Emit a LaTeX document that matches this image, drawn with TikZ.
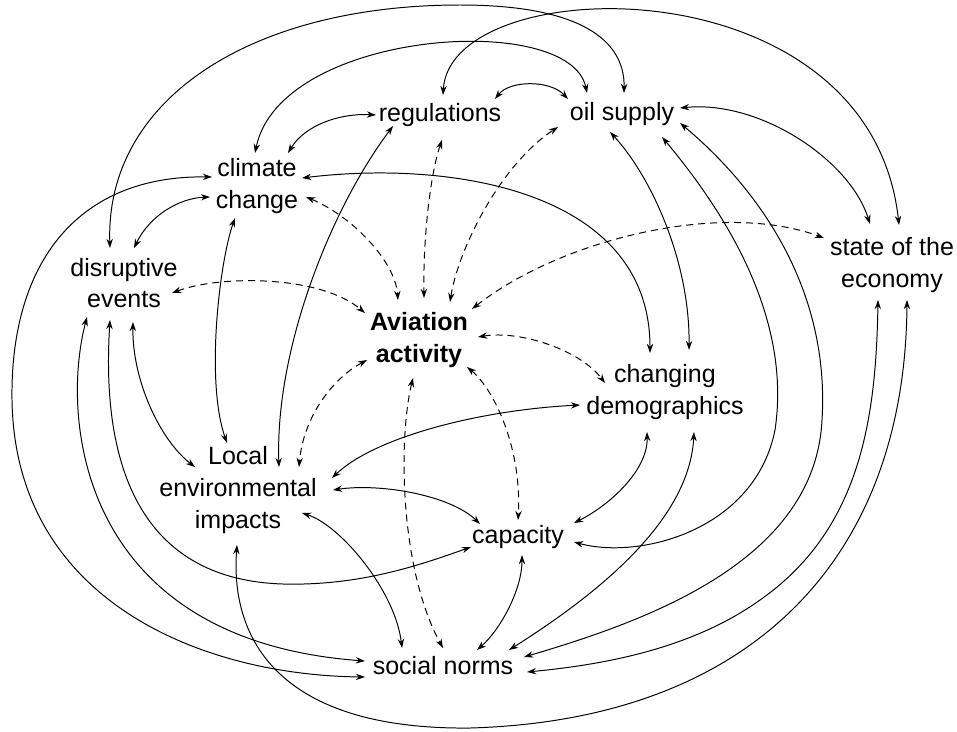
\documentclass[tikz,border=0pt]{standalone}
\usepackage{fontspec}
\setmainfont{Liberation Sans}
\usetikzlibrary{arrows.meta, calc}

\begin{document}
\begin{tikzpicture}[x=0.025cm, y=-0.025cm, >={Stealth[length=6.5pt,width=4.5pt]},
  factor/.style={align=center, inner sep=0pt, font=\fontsize{17.8}{22.5}\selectfont},
  link/.style={<->, line width=0.7pt},
  dlink/.style={link, dash pattern=on 5pt off 3.5pt}]
\useasboundingbox (0,0) rectangle (957,731);

\node[factor] (reg) at (440,115) {regulations};
\node[factor] (oil) at (622,114) {oil supply};
\node[factor] (clim) at (257,186) {climate\\change};
\node[factor] (dis) at (124,283) {disruptive\\events};
\node[factor] (eco) at (892,265) {state of the\\economy};
\node[factor, font=\fontsize{17.8}{22.5}\selectfont\bfseries] (avi) at (419,340) {Aviation\\activity};
\node[factor] (dem) at (665,392) {changing\\demographics};
\node[factor] (loc) at (238,490) {Local\\environmental\\impacts};
\node[factor] (cap) at (518,537) {capacity};
\node[factor] (soc) at (443,666) {social norms};

\draw[dlink] ($(clim)+(49,11)$) .. controls (350,215) and (395,260) .. ($(avi)+(-21,-40)$);
\draw[dlink] ($(reg)+(2,25)$) .. controls (430,175) and (423,240) .. ($(avi)+(5,-42)$);
\draw[dlink] ($(avi)+(31,-38)$) .. controls (458,250) and (500,165) .. ($(oil)+(-64,13)$);
\draw[dlink] ($(dis)+(48,10)$) .. controls (220,275) and (320,275) .. ($(avi)+(-54,-27)$);
\draw[dlink] ($(avi)+(53,-31)$) .. controls (560,240) and (720,200) .. ($(eco)+(-68,-27)$);
\draw[dlink] ($(avi)+(59,-3)$) .. controls (520,330) and (580,350) .. ($(dem)+(-60,-9)$);
\draw[dlink] ($(avi)+(-52,20)$) .. controls (330,380) and (303,420) .. ($(loc)+(61,-23)$);
\draw[dlink] ($(avi)+(48,27)$) .. controls (495,390) and (522,450) .. ($(cap)+(0,-17)$);
\draw[dlink] ($(avi)+(-6,38)$) .. controls (398,440) and (400,570) .. ($(soc)+(0,-18)$);

\draw[link] ($(reg)+(55,-16)$) .. controls (510,80) and (550,80) .. ($(oil)+(-54,-15)$);
\draw[link] ($(clim)+(31,-33)$) .. controls (305,125) and (340,113) .. ($(reg)+(-64,0)$);
\draw[link] ($(reg)+(3,-20)$) .. controls (450,-30) and (870,-40) .. ($(eco)+(7,-40)$);
\draw[link] ($(reg)+(-47,11)$) .. controls (330,210) and (275,350) .. ($(loc)+(41,-23)$);
\draw[link] ($(dis)+(-14,-35)$) .. controls (105,100) and (250,5) .. (460,5)
  .. controls (580,5) and (625,40) .. ($(oil)+(2,-21)$);
\draw[link] ($(clim)+(-2,-33)$) .. controls (280,30) and (570,10) .. ($(oil)+(-35,-21)$);
\draw[link] ($(oil)+(58,-6)$) .. controls (760,100) and (850,160) .. ($(eco)+(-22,-41)$);
\draw[link] ($(oil)+(-12,18)$) .. controls (650,175) and (690,260) .. ($(dem)+(24,-42)$);
\draw[link] ($(oil)+(40,23)$) .. controls (740,230) and (790,330) .. (775,430)
  .. controls (755,530) and (640,560) .. ($(cap)+(56,5)$);
\draw[link] ($(oil)+(58,9)$) .. controls (760,190) and (830,290) .. (822,420)
  .. controls (815,560) and (650,620) .. ($(soc)+(81,-9)$);
\draw[link] ($(dis)+(10,-35)$) .. controls (150,215) and (180,198) .. ($(clim)+(-47,11)$);
\draw[link] ($(clim)+(-22,32)$) .. controls (220,260) and (205,380) .. ($(loc)+(-11,-47)$);
\draw[link] ($(clim)+(45,-8)$) .. controls (450,160) and (650,190) .. ($(dem)+(-15,-39)$);
\draw[link] ($(clim)+(-45,-9)$) .. controls (80,175) and (10,260) .. (12,400)
  .. controls (15,600) and (200,675) .. ($(soc)+(-78,11)$);
\draw[link] ($(dis)+(-37,34)$) .. controls (60,420) and (80,640) .. ($(soc)+(-78,-5)$);
\draw[link] ($(dis)+(-14,37)$) .. controls (100,480) and (150,580) .. (283,584)
  .. controls (360,586) and (420,565) .. ($(cap)+(-47,10)$);
\draw[link] ($(dis)+(9,39)$) .. controls (132,380) and (160,440) .. ($(loc)+(-43,-23)$);
\draw[link] ($(eco)+(-14,35)$) .. controls (876,420) and (860,530) .. (760,600)
  .. controls (690,650) and (600,665) .. ($(soc)+(84,6)$);
\draw[link] ($(eco)+(15,35)$) .. controls (905,560) and (750,720) .. (470,728)
  .. controls (280,730) and (230,640) .. ($(loc)+(-1,55)$);
\draw[link] ($(loc)+(94,-12)$) .. controls (375,437) and (480,410) .. ($(dem)+(-85,13)$);
\draw[link] ($(dem)+(-18,40)$) .. controls (648,470) and (610,505) .. ($(cap)+(56,-14)$);
\draw[link] ($(dem)+(29,40)$) .. controls (690,510) and (620,580) .. ($(soc)+(66,-16)$);
\draw[link] ($(loc)+(95,0)$) .. controls (380,483) and (450,495) .. ($(cap)+(-38,-13)$);
\draw[link] ($(loc)+(64,23)$) .. controls (340,525) and (395,590) .. ($(soc)+(-41,-18)$);
\draw[link] ($(cap)+(4,18)$) .. controls (522,590) and (500,630) .. ($(soc)+(34,-16)$);

\end{tikzpicture}
\end{document}
